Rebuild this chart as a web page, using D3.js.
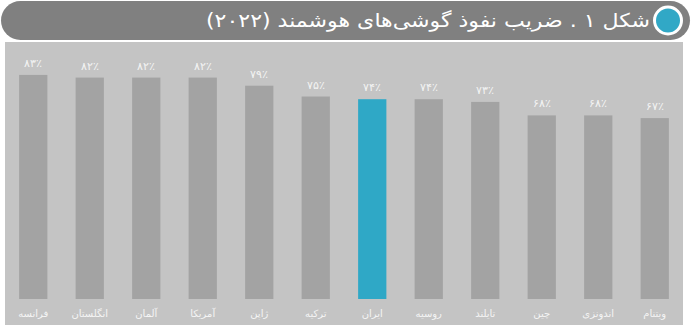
<!DOCTYPE html>
<html>
<head>
<meta charset="utf-8">
<script src="https://cdn.jsdelivr.net/npm/d3@7"></script>
<style>
  body { margin: 0; background: #fff; }
  svg { display: block; }
  text { font-family: "DejaVu Sans", sans-serif; }
</style>
</head>
<body>
<div id="chart"></div>
<script>
// data
const countries = ['فرانسه', 'انگلستان', 'آلمان', 'آمریکا', 'ژاپن', 'ترکیه', 'ایران', 'روسیه', 'تایلند', 'چین', 'اندونزی', 'ویتنام'];
const penetration = [83, 82, 82, 82, 79, 75, 74, 74, 73, 68, 68, 67];
const highlight = 'ایران';
const title = 'شکل ۱ . ضریب نفوذ گوشی‌های هوشمند (۲۰۲۲)';

const W = 698, H = 328;
const faDigits = '۰۱۲۳۴۵۶۷۸۹';
const toFa = s => String(s).replace(/\d/g, d => faDigits[+d]);

const data = countries.map((c, i) => ({ name: c, value: penetration[i] }));

const svg = d3.select('#chart').append('svg')
  .attr('width', W)
  .attr('height', H);

// title bar
svg.append('rect')
  .attr('x', 1).attr('y', 1)
  .attr('width', 689).attr('height', 39)
  .attr('rx', 19.5)
  .attr('fill', '#808080');

svg.append('circle')
  .attr('cx', 668).attr('cy', 20.5).attr('r', 15)
  .attr('fill', '#fff');
svg.append('circle')
  .attr('cx', 668).attr('cy', 20.5).attr('r', 12)
  .attr('fill', '#31a8c6');

svg.append('text')
  .attr('x', 650).attr('y', 27)
  .attr('text-anchor', 'start')
  .attr('direction', 'rtl')
  .attr('fill', '#fff')
  .attr('font-size', 19)
  .attr('textLength', 444)
  .attr('lengthAdjust', 'spacingAndGlyphs')
  .text(title);

// panel
svg.append('rect')
  .attr('x', 5).attr('y', 42)
  .attr('width', 678).attr('height', 283)
  .attr('fill', '#c4c4c4');

const x = d3.scaleBand()
  .domain(countries)
  .range([5, 683])
  .paddingInner(0.5)
  .paddingOuter(0.25);

const y = d3.scaleLinear()
  .domain([0, 100])
  .range([299, 29]);

const g = svg.append('g');

g.selectAll('rect.bar')
  .data(data)
  .enter().append('rect')
  .attr('class', 'bar')
  .attr('x', d => x(d.name))
  .attr('y', d => y(d.value))
  .attr('width', x.bandwidth())
  .attr('height', d => y(0) - y(d.value))
  .attr('fill', d => d.name === highlight ? '#2fa8c6' : '#a3a3a3');

g.selectAll('text.val')
  .data(data)
  .enter().append('text')
  .attr('class', 'val')
  .attr('x', d => x(d.name) + x.bandwidth() / 2)
  .attr('y', d => y(d.value) - 8)
  .attr('text-anchor', 'middle')
  .attr('fill', '#f4f4f4')
  .attr('font-size', 11)
  .attr('font-weight', 300)
  .text(d => toFa(d.value) + '٪');

g.selectAll('text.cat')
  .data(data)
  .enter().append('text')
  .attr('class', 'cat')
  .attr('x', d => x(d.name) + x.bandwidth() / 2)
  .attr('y', 317)
  .attr('text-anchor', 'middle')
  .attr('fill', '#f4f4f4')
  .attr('font-size', 10)
  .text(d => d.name);
</script>
</body>
</html>
